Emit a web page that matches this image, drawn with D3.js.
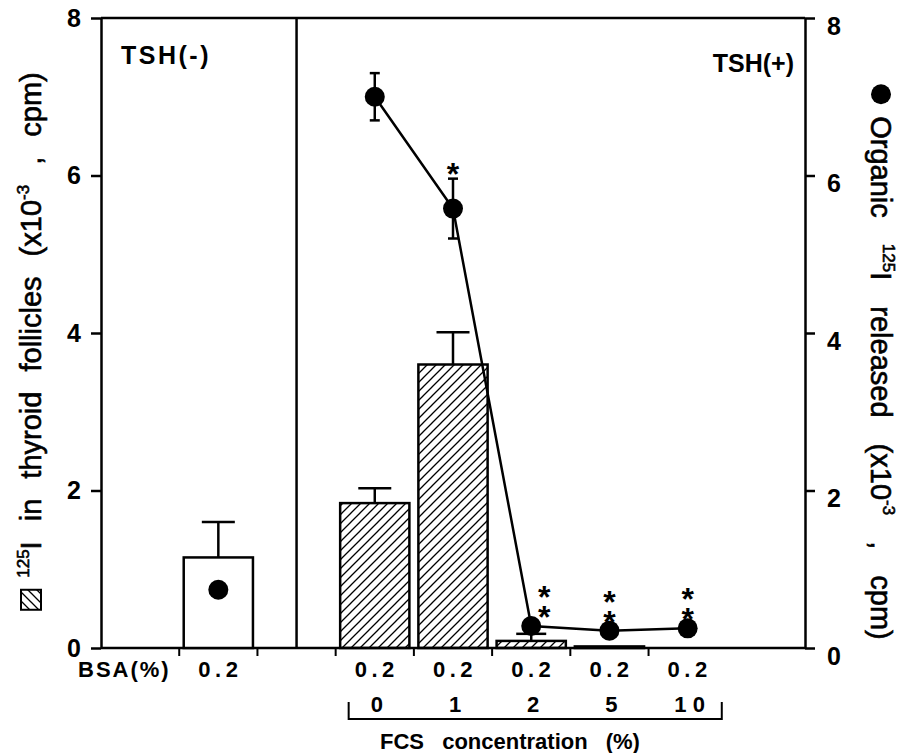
<!DOCTYPE html>
<html>
<head>
<meta charset="utf-8">
<script src="https://cdn.jsdelivr.net/npm/d3@7"></script>
<style>
  body { margin: 0; background: #fff; }
  svg { font-family: "Liberation Sans", Arial, Helvetica, sans-serif; }
</style>
</head>
<body>
<svg></svg>
<script>
const width = 898,
      height = 753

// band slots along the x axis (label slot, TSH(-) bar, divider, FCS groups, empty end)
const groups = ["label", "TSH(-)", "divider", "0", "1", "2", "5", "10", "end"]
const barGroups = ["TSH(-)", "0", "1", "2", "5", "10"]
const bsaLabels = ["0.2", "0.2", "0.2", "0.2", "0.2", "0.2"]
const fcsLabels = ["0", "1", "2", "5", "1 0"]

// left axis: 125I in thyroid follicles (x10^-3 cpm)
const barValues = [1.15, 1.84, 3.60, 0.09, 0.02, 0]
const barErrors = [0.45, 0.19, 0.41, 0.09, 0, 0]
// right axis: organic 125I released (x10^-3 cpm)
const dotValues = [0.74, 7.0, 5.58, 0.28, 0.22, 0.25]
const dotErrors = [0, 0.30, 0.38, 0, 0, 0]
const marks = ["", "", "*", "**", "**", "**"]
const yTicks = [0, 2, 4, 6, 8]

const margin = {top: 18, right: 93, bottom: 105, left: 101}

const svg = d3.select("svg")
  .attr("width", width)
  .attr("height", height)

const x = d3.scaleBand()
  .domain(groups)
  .range([margin.left, width - margin.right])

const yL = d3.scaleLinear().domain([0, 8]).range([height - margin.bottom, margin.top])
const yR = d3.scaleLinear().domain([0, 8]).range([height - margin.bottom, margin.top])

const mid = d => x(d) + x.bandwidth() / 2
const sw = 2.5

// hatch pattern
const defs = svg.append("defs")
defs.append("pattern")
    .attr("id", "hatch")
    .attr("patternUnits", "userSpaceOnUse")
    .attr("width", 9)
    .attr("height", 9)
  .append("path")
    .attr("d", "M-1,1 l2,-2 M0,9 l9,-9 M8,10 l2,-2")
    .attr("stroke", "#000")
    .attr("stroke-width", 1.3)

// axes
const styleAxis = g => {
  g.selectAll("path, line").attr("stroke", "#000").attr("stroke-width", sw)
  g.selectAll("text").attr("font-size", 25).attr("font-weight", "bold").attr("fill", "#000")
}

svg.append("g")
  .attr("transform", `translate(${margin.left},0)`)
  .call(d3.axisLeft(yL).tickValues(yTicks).tickSize(10).tickSizeOuter(0).tickPadding(10))
  .call(styleAxis)

svg.append("g")
  .attr("transform", `translate(${width - margin.right},0)`)
  .call(d3.axisRight(yR).tickValues(yTicks).tickSize(10).tickSizeOuter(0).tickPadding(12))
  .call(styleAxis)
  .call(g => g.selectAll("text").attr("dy", "0.65em"))

// frame: top line, bottom line, divider
svg.append("line")
  .attr("x1", margin.left).attr("x2", width - margin.right)
  .attr("y1", yL(8)).attr("y2", yL(8))
  .attr("stroke", "#000").attr("stroke-width", sw)

svg.append("line")
  .attr("x1", margin.left).attr("x2", width - margin.right)
  .attr("y1", yL(0)).attr("y2", yL(0))
  .attr("stroke", "#000").attr("stroke-width", sw)

svg.append("line")
  .attr("x1", mid("divider")).attr("x2", mid("divider"))
  .attr("y1", yL(8)).attr("y2", yL(0))
  .attr("stroke", "#000").attr("stroke-width", sw)

// bottom ticks at band boundaries
svg.selectAll("line.xtick")
  .data(groups.slice(1, -1))
  .join("line")
    .classed("xtick", true)
    .attr("x1", d => x(d)).attr("x2", d => x(d))
    .attr("y1", yL(0)).attr("y2", yL(0) + 8)
    .attr("stroke", "#000").attr("stroke-width", 2)

// bars
const barW = x.bandwidth() * 0.885
svg.selectAll("rect.bar")
  .data(barGroups.filter((d, i) => barValues[i] > 0))
  .join("rect")
    .classed("bar", true)
    .attr("x", d => mid(d) - barW / 2)
    .attr("y", d => yL(barValues[barGroups.indexOf(d)]))
    .attr("width", barW)
    .attr("height", d => yL(0) - yL(barValues[barGroups.indexOf(d)]))
    .attr("fill", d => d === "TSH(-)" ? "#fff" : "url(#hatch)")
    .attr("stroke", "#000")
    .attr("stroke-width", sw)

// bar error bars (upper only)
const barErr = svg.append("g").attr("stroke", "#000").attr("stroke-width", sw)
barGroups.forEach((d, i) => {
  if (!barErrors[i]) return
  const cx = mid(d), top = yL(barValues[i] + barErrors[i])
  barErr.append("line").attr("x1", cx).attr("x2", cx).attr("y1", yL(barValues[i])).attr("y2", top)
  const cw = barValues[i] < 0.5 ? 30 : 33
  barErr.append("line").attr("x1", cx - cw / 2).attr("x2", cx + cw / 2).attr("y1", top).attr("y2", top)
})

// dot error bars
const dotErr = svg.append("g").attr("stroke", "#000").attr("stroke-width", sw)
barGroups.forEach((d, i) => {
  if (!dotErrors[i]) return
  const cx = mid(d), lo = yR(dotValues[i] - dotErrors[i]), hi = yR(dotValues[i] + dotErrors[i])
  dotErr.append("line").attr("x1", cx).attr("x2", cx).attr("y1", lo).attr("y2", hi)
  dotErr.append("line").attr("x1", cx - 5).attr("x2", cx + 5).attr("y1", lo).attr("y2", lo)
  dotErr.append("line").attr("x1", cx - 5).attr("x2", cx + 5).attr("y1", hi).attr("y2", hi)
})

// connecting line for TSH(+) groups
const line = d3.line()
  .x(d => mid(d))
  .y(d => yR(dotValues[barGroups.indexOf(d)]))

svg.append("path")
  .datum(barGroups.slice(1))
  .attr("d", line)
  .attr("fill", "none")
  .attr("stroke", "#000")
  .attr("stroke-width", sw)

svg.selectAll("circle.dot")
  .data(barGroups)
  .join("circle")
    .classed("dot", true)
    .attr("cx", d => mid(d))
    .attr("cy", (d, i) => yR(dotValues[i]))
    .attr("r", 10)
    .attr("fill", "#000")

// significance marks; stacked asterisks written as one vertical text run
barGroups.forEach((d, i) => {
  const m = marks[i]
  if (!m) return
  const fs = 32
  const cx = mid(d) + (d === "2" ? 13 : 0)
  if (m.length === 1) {
    const top = yR(dotValues[i] + dotErrors[i])
    svg.append("text")
      .attr("x", cx).attr("y", top - 12 + 18)
      .attr("text-anchor", "middle")
      .attr("font-size", fs).attr("font-weight", "bold")
      .text(m)
  } else {
    const cy = yR(dotValues[i])
    svg.append("text")
      .attr("x", cx).attr("y", cy - 27)
      .attr("text-anchor", "middle")
      .style("writing-mode", "vertical-rl")
      .style("text-orientation", "upright")
      .attr("letter-spacing", -16)
      .attr("font-size", fs).attr("font-weight", "bold")
      .text(m)
  }
})

// panel titles
svg.append("text")
  .attr("x", 121).attr("y", 64)
  .attr("font-size", 25).attr("font-weight", "bold").attr("letter-spacing", 2.5)
  .text("TSH(-)")

svg.append("text")
  .attr("x", 794).attr("y", 72)
  .attr("text-anchor", "end")
  .attr("font-size", 25).attr("font-weight", "bold")
  .text("TSH(+)")

// bottom labels
svg.append("text")
  .attr("x", 78).attr("y", 677)
  .attr("font-size", 22).attr("font-weight", "bold").attr("letter-spacing", 2)
  .text("BSA(%)")

svg.selectAll("text.bsa")
  .data(barGroups)
  .join("text")
    .classed("bsa", true)
    .attr("x", d => mid(d) + 2)
    .attr("y", 677)
    .attr("text-anchor", "middle")
    .attr("font-size", 22).attr("font-weight", "bold").attr("letter-spacing", 4.5)
    .text((d, i) => bsaLabels[i])

svg.selectAll("text.fcs")
  .data(barGroups.slice(1))
  .join("text")
    .classed("fcs", true)
    .attr("x", d => mid(d) + 2)
    .attr("y", 712)
    .attr("text-anchor", "middle")
    .attr("font-size", 22).attr("font-weight", "bold")
    .text((d, i) => fcsLabels[i])

const bx0 = x("0") + 13, bx1 = x("10") + x.bandwidth() - 5
svg.append("path")
  .attr("d", `M${bx0},702 V719 H${bx1} V702`)
  .attr("fill", "none").attr("stroke", "#000").attr("stroke-width", 2)

svg.append("text")
  .attr("x", 510).attr("y", 749)
  .attr("text-anchor", "middle")
  .attr("font-size", 22).attr("font-weight", "bold").attr("word-spacing", 12)
  .text("FCS concentration (%)")

// rotated axis titles with legend symbols
function axisTitle(cx, cy, angle, parts, symbol, ws) {
  const g = svg.append("g").attr("transform", `translate(${cx},${cy}) rotate(${angle})`)
  const t = g.append("text")
    .attr("y", 10)
    .attr("font-size", 29)
    .attr("word-spacing", ws)
    .attr("fill", "#000")
    .attr("stroke", "#000").attr("stroke-width", 0.6)
  parts.forEach(p => {
    const s = t.append("tspan").text(p.t)
    if (p.sup) s.attr("font-size", 17).attr("dy", -12)
    if (p.down) s.attr("dy", 12)
  })
  const iconW = 20, gap = 12
  const len = t.node().getComputedTextLength()
  const total = iconW + gap + len
  const start = -total / 2
  t.attr("x", start + iconW + gap)
  symbol(g, start, iconW)
}

axisTitle(31, 341, -90, [
  {t: "125", sup: true}, {t: "I in thyroid follicles (x10", down: true},
  {t: "-3", sup: true}, {t: " , cpm)", down: true}
], (g, s, w) => {
  g.append("rect").attr("x", s).attr("y", -w / 2).attr("width", w).attr("height", w)
    .attr("fill", "url(#hatch)").attr("stroke", "#000").attr("stroke-width", 2)
}, 12)

axisTitle(881, 362, 90, [
  {t: "Organic "}, {t: "125", sup: true}, {t: "I released (x10", down: true},
  {t: "-3", sup: true}, {t: " , cpm)", down: true}
], (g, s, w) => {
  g.append("circle").attr("cx", s + w / 2).attr("cy", 0).attr("r", 10).attr("fill", "#000")
}, 18)
</script>
</body>
</html>
